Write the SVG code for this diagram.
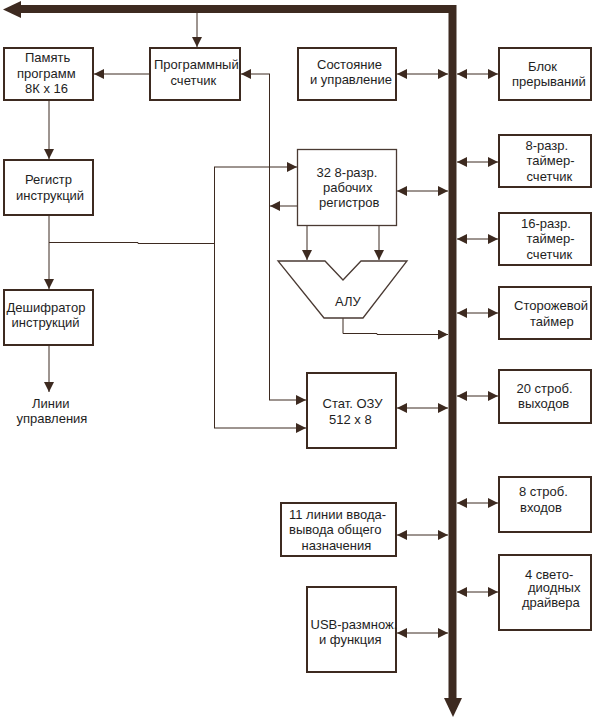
<svg xmlns="http://www.w3.org/2000/svg" width="592" height="720" viewBox="0 0 592 720">
<style>
.box{fill:#fff;stroke:#3d2a20;stroke-width:2}
.thin{fill:#fff;stroke:#4a3a33;stroke-width:1.3}
.ln{fill:none;stroke:#3d2a20;stroke-width:1}
.a{marker-end:url(#ah)}
.d{marker-start:url(#ah);marker-end:url(#ah)}
text{font-family:"Liberation Sans",Arial,sans-serif;font-size:13px;fill:#1e1e1e}
</style>
<defs>
<marker id="ah" viewBox="0 0 10 10" refX="10" refY="5" markerWidth="10" markerHeight="10" markerUnits="userSpaceOnUse" orient="auto-start-reverse">
<path d="M0,0 L10,5 L0,10 z" fill="#3d2a20"/>
</marker>
</defs>
<rect width="592" height="720" fill="#fff"/>

<g id="bus">
<path d="M19,9 H452.5 V699" fill="none" stroke="#3d2a20" stroke-width="8" stroke-linejoin="miter"/>
<polygon points="3,9.5 21,1 21,18" fill="#3d2a20"/>
<polygon points="453,717 444,698 462,698" fill="#3d2a20"/>
</g>

<g id="connectors">
<line class="ln a" x1="197" y1="13" x2="197" y2="47"/>
<line class="ln a" x1="149" y1="74" x2="94" y2="74"/>
<line class="ln a" x1="49" y1="101" x2="49" y2="159"/>
<line class="ln a" x1="49" y1="216" x2="49" y2="289"/>
<line class="ln a" x1="49" y1="346" x2="49" y2="392"/>
<polyline class="ln" points="49,242.5 138,242.5 138,243.5 214.5,243.5"/>
<line class="ln" x1="214.5" y1="167" x2="214.5" y2="428"/>
<line class="ln a" x1="214" y1="167" x2="297" y2="167"/>
<line class="ln a" x1="214" y1="428" x2="306" y2="428"/>
<line class="ln a" x1="297" y1="206" x2="270" y2="206"/>
<line class="ln" x1="269.5" y1="74" x2="269.5" y2="400"/>
<line class="ln a" x1="270" y1="74" x2="241" y2="74"/>
<line class="ln a" x1="269" y1="400" x2="306" y2="400"/>
<line class="ln a" x1="307" y1="226" x2="307" y2="260"/>
<line class="ln a" x1="379" y1="226" x2="379" y2="260"/>
<polyline class="ln a" points="343,318 343,333.5 377,333.5 377,334.5 448,334.5"/>
<line class="ln d" x1="397" y1="74" x2="448" y2="74"/>
<line class="ln d" x1="457" y1="74" x2="498" y2="74"/>
<line class="ln d" x1="457" y1="162" x2="498" y2="162"/>
<line class="ln d" x1="397" y1="191" x2="448" y2="191"/>
<line class="ln d" x1="457" y1="239" x2="498" y2="239"/>
<line class="ln d" x1="457" y1="313" x2="498" y2="313"/>
<line class="ln d" x1="457" y1="396" x2="498" y2="396"/>
<line class="ln d" x1="397" y1="408" x2="448" y2="408"/>
<line class="ln d" x1="457" y1="503" x2="498" y2="503"/>
<line class="ln d" x1="397" y1="535" x2="448" y2="535"/>
<line class="ln d" x1="457" y1="592" x2="498" y2="592"/>
<line class="ln d" x1="397" y1="633" x2="448" y2="633"/>
</g>

<g id="mem">
<rect class="box" x="4" y="48" width="89" height="52"/>
<text x="25" y="62">Память</text>
<text x="17" y="77.5">программ</text>
<text x="25" y="93">8К х 16</text>
</g>
<g id="pc">
<rect class="box" x="150" y="48" width="90" height="52"/>
<text x="154" y="69">Программный</text>
<text x="170.5" y="85">счетчик</text>
</g>
<g id="status">
<rect class="box" x="298" y="48" width="98" height="52"/>
<text x="317" y="68.5">Состояние</text>
<text x="310" y="84">и управление</text>
</g>
<g id="irq">
<rect class="box" x="499" y="48" width="92" height="52"/>
<text x="528" y="70.5">Блок</text>
<text x="512" y="86">прерываний</text>
</g>
<g id="ir">
<rect class="box" x="4" y="160" width="89" height="55"/>
<text x="25" y="184">Регистр</text>
<text x="16" y="199.5">инструкций</text>
</g>
<g id="regs">
<rect class="thin" x="297.5" y="149.5" width="99" height="76"/>
<text x="316.5" y="176.5">32 8-разр.</text>
<text x="323" y="192">рабочих</text>
<text x="319" y="207">регистров</text>
</g>
<g id="t8">
<rect class="box" x="499" y="135" width="92" height="52"/>
<text x="525.5" y="149.5">8-разр.</text>
<text x="526.5" y="165">таймер-</text>
<text x="526.5" y="181">счетчик</text>
</g>
<g id="t16">
<rect class="box" x="499" y="213" width="92" height="52"/>
<text x="521" y="227.5">16-разр.</text>
<text x="526.5" y="243">таймер-</text>
<text x="526.5" y="258.5">счетчик</text>
</g>
<g id="alu">
<polygon class="thin" points="278,261 325,261 343,280 361,261 407,261 363,318 324,318"/>
<text x="335" y="305.5">АЛУ</text>
</g>
<g id="dec">
<rect class="box" x="4" y="290" width="89" height="55"/>
<text x="6.5" y="311.5">Дешифратор</text>
<text x="11.5" y="327">инструкций</text>
</g>
<g id="ctl">
<text x="32" y="407.5">Линии</text>
<text x="16.5" y="423">управления</text>
</g>
<g id="wdt">
<rect class="box" x="499" y="287" width="92" height="52"/>
<text x="514" y="309.5">Сторожевой</text>
<text x="530" y="326">таймер</text>
</g>
<g id="sram">
<rect class="box" x="307" y="373" width="89" height="75"/>
<text x="322.5" y="407.5">Стат. ОЗУ</text>
<text x="329" y="423.5">512 х 8</text>
</g>
<g id="out20">
<rect class="box" x="499" y="370" width="92" height="53"/>
<text x="516.5" y="392.5">20 строб.</text>
<text x="518" y="408">выходов</text>
</g>
<g id="in8">
<rect class="box" x="499" y="477" width="92" height="55"/>
<text x="519" y="496">8 строб.</text>
<text x="520" y="512">входов</text>
</g>
<g id="gpio">
<rect class="box" x="281" y="503" width="115" height="53"/>
<text x="289" y="518.5">11 линии ввода-</text>
<text x="289" y="534">вывода общего</text>
<text x="301.5" y="549.5">назначения</text>
</g>
<g id="led">
<rect class="box" x="499" y="555" width="92" height="75"/>
<text x="525" y="578.5">4 свето-</text>
<text x="528" y="592">диодных</text>
<text x="522" y="607">драйвера</text>
</g>
<g id="usb">
<rect class="box" x="307" y="587" width="89" height="85"/>
<text x="310.5" y="629">USB-размнож.</text>
<text x="319" y="644">и функция</text>
</g>
</svg>
